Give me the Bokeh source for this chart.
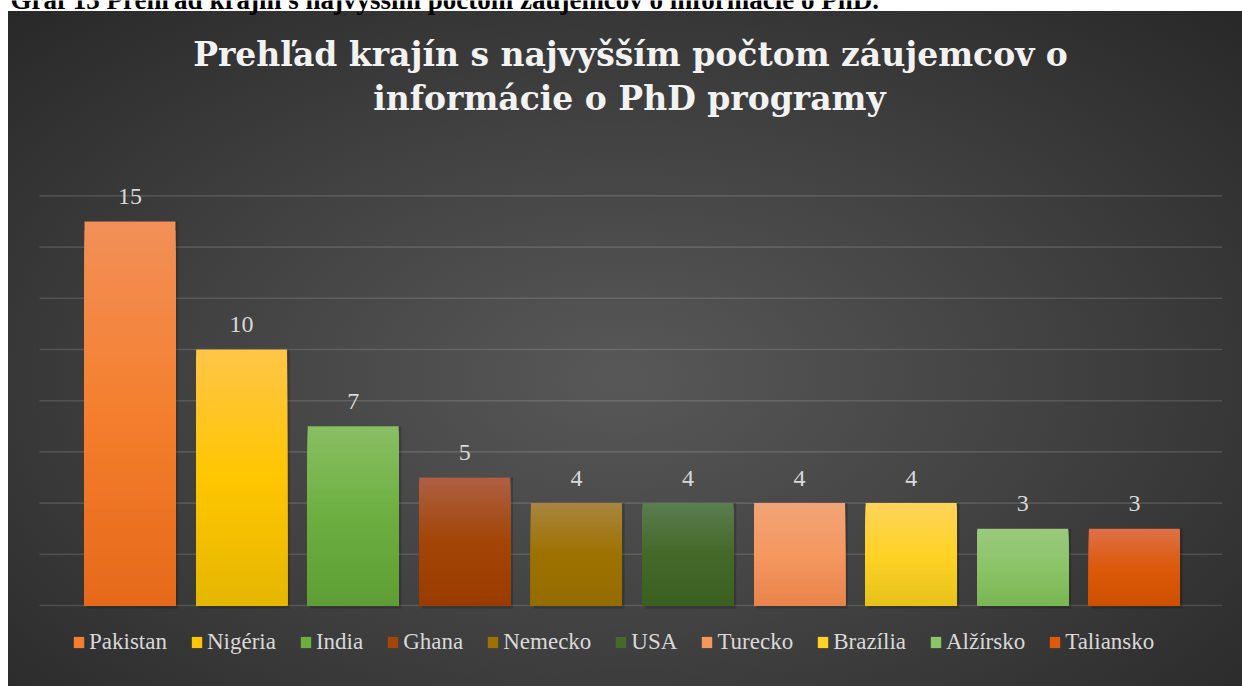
import numpy as np
from bokeh.plotting import figure
from bokeh.models import ColumnDataSource, Range1d, Legend, LegendItem, Label
from bokeh.core.properties import value
from bokeh.embed import file_html
from bokeh.resources import INLINE

# ---- data ----
countries = ["Pakistan", "Nigéria", "India", "Ghana", "Nemecko", "USA",
             "Turecko", "Brazília", "Alžírsko", "Taliansko"]
counts = [15, 10, 7, 5, 4, 4, 4, 4, 3, 3]
y_ticks = [0, 2, 4, 6, 8, 10, 12, 14, 16]
title_lines = ["Prehľad krajín s najvyšším počtom záujemcov o",
               "informácie o PhD programy"]
caption = "Graf 13 Prehľad krajín s najvyšším počtom záujemcov o informácie o PhD."

# ---- styles (gradient stops per bar) ----
top_colors = ["#F29058", "#FFC548", "#8ABF64", "#AE6044", "#A88540",
              "#5C7C50", "#F2A478", "#FFD35A", "#9ACA7C", "#DE7048"]
mid_colors = ["#F47F2E", "#FFC600", "#6CAF40", "#A24506", "#9E7200",
              "#44692A", "#F59860", "#FFD326", "#8CC468", "#DC5A0A"]
bot_colors = ["#E6691A", "#E5B700", "#5E9E34", "#9A3C00", "#946C00",
              "#3A6020", "#E8844A", "#E6C21A", "#7AB654", "#CE5000"]


def hex2rgb(h):
    h = h.lstrip("#")
    return np.array([int(h[i:i + 2], 16) for i in (0, 2, 4)], dtype=float)


def grad(i, t):
    b, m, tp = hex2rgb(bot_colors[i]), hex2rgb(mid_colors[i]), hex2rgb(top_colors[i])
    if t <= 0.5:
        c = b + (m - b) * (t / 0.5)
    else:
        c = m + (tp - m) * ((t - 0.5) / 0.5)
    c = np.clip(np.round(c), 0, 255).astype(int)
    return "#%02x%02x%02x" % tuple(c)


xs = np.arange(len(countries)) + 0.5
BAR_W = 0.815
W, H = 1242, 686

p = figure(width=W, height=H,
           x_range=Range1d(-0.6604, 10.4688), y_range=Range1d(-3.164, 23.633),
           output_backend="svg", toolbar_location=None,
           min_border=0)
p.styles = {
    "background": "linear-gradient(to right, #ffffff 0px, #ffffff 8px, transparent 8px), "
                  "linear-gradient(#ffffff 0px, #ffffff 11px, transparent 11px), "
                  "radial-gradient(ellipse 75% 80% at 50% 55%, #585858 0%, #424242 45%, #252525 100%)",
}
p.border_fill_alpha = 0
p.background_fill_alpha = 0
p.outline_line_color = None
p.xaxis.visible = False
p.yaxis.visible = False
p.grid.grid_line_color = None

# horizontal gridlines across the plot area
p.segment(x0=-0.31, x1=10.285, y0=y_ticks, y1=y_ticks,
          line_color="#ffffff", line_alpha=0.13, line_width=1.6)

# shadow
shadow_src = ColumnDataSource(dict(x=xs + 0.025, top=counts))
p.vbar(x="x", top="top", bottom=-0.12, width=BAR_W, source=shadow_src,
       fill_color="#000000", fill_alpha=0.18, line_color=None)

# gradient bars, drawn as nested bars from tallest band to shortest
N = 40
renderers = []
for k in range(N):
    frac = 1 - k / N
    t = frac - 0.5 / N
    src = ColumnDataSource(dict(
        x=xs,
        top=[v * frac for v in counts],
        color=[grad(i, t) for i in range(len(countries))],
    ))
    r = p.vbar(x="x", top="top", bottom=0, width=BAR_W, source=src,
               fill_color="color", line_color=None)
    renderers.append(r)

legend_r = renderers[N // 2]
items = [LegendItem(label=c, renderers=[legend_r], index=i) for i, c in enumerate(countries)]
legend = Legend(items=items, orientation="horizontal", location=(72, 31),
                label_text_font="Liberation Serif", label_text_font_size="23px",
                label_text_color="#d9d9d9", glyph_width=13, glyph_height=14,
                label_standoff=4, spacing=23, padding=0, margin=0,
                border_line_color=None, background_fill_alpha=0)
p.add_layout(legend, "center")

# data labels
lab_src = ColumnDataSource(dict(x=xs, y=counts, t=[str(v) for v in counts]))
p.text(x="x", y="y", text="t", source=lab_src, text_align="center",
       text_baseline="alphabetic", y_offset=-25, text_color="#d9d9d9",
       text_font=value("Liberation Serif"), text_font_size="24px")

# title
for line, xx, yy in zip(title_lines, [630, 629], [632, 588]):
    p.add_layout(Label(x=xx, y=yy, x_units="screen", y_units="screen", text=line,
                       text_align="center", text_baseline="alphabetic",
                       text_font="DejaVu Serif", text_font_style="bold",
                       text_font_size="33px", text_color="#f2f2f2"))

# caption (cut off at the top edge in the reference)
p.add_layout(Label(x=10, y=687, x_units="screen", y_units="screen", text=caption,
                   text_align="left", text_baseline="alphabetic",
                   text_font="Liberation Serif", text_font_style="bold",
                   text_font_size="27px", text_color="#000000"))

open("out.html", "w").write(file_html(p, INLINE))
